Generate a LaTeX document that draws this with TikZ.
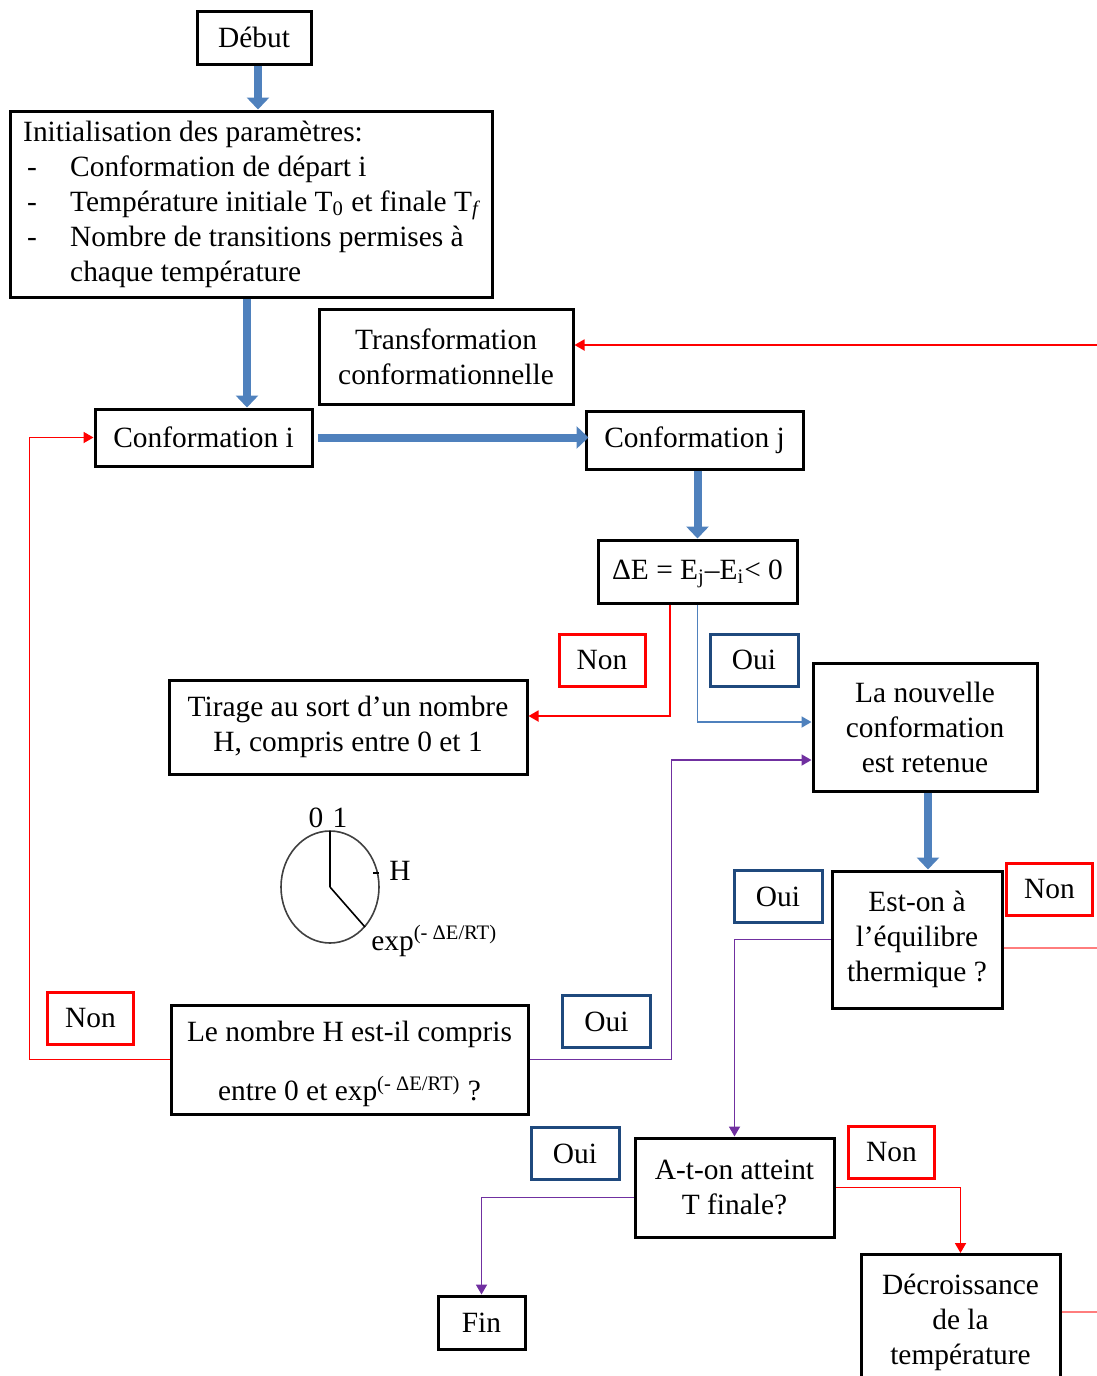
\documentclass[tikz,border=0pt]{standalone}
\usepackage{fontspec}
\setmainfont{Liberation Serif}
\usepackage{xcolor}
\usetikzlibrary{arrows.meta}

\definecolor{bigblue}{RGB}{79,129,189}
\definecolor{ouiblue}{RGB}{31,73,125}
\definecolor{nonred}{RGB}{255,0,0}
\definecolor{palered}{RGB}{255,125,125}
\definecolor{ouipurple}{RGB}{112,48,160}

\begin{document}
\begin{tikzpicture}[
    x=0.5pt, y=-0.5pt,
    font=\fontsize{14.7}{17.5}\selectfont,
    box/.style={draw, line width=1.5pt, align=center, inner sep=2pt},
    nonbox/.style={draw=nonred, line width=1.5pt, minimum width=43pt, minimum height=26pt, inner sep=1pt},
    ouibox/.style={draw=ouiblue, line width=1.5pt, minimum width=44pt, minimum height=26pt, inner sep=1pt},
    bigarrow/.style={-{Triangle[width=11pt,length=6pt]}, line width=4pt, bigblue},
    nonline/.style={-{Triangle[width=5.5pt,length=5pt]}, line width=0.9pt, nonred},
    ouiline/.style={-{Triangle[width=5.5pt,length=5pt]}, line width=0.9pt, ouipurple},
    okline/.style={-{Triangle[width=5.5pt,length=5pt]}, line width=0.9pt, bigblue}
]
\path[use as bounding box, clip] (0,0) rectangle (1097,1376);

% boites principales
\node[box, minimum width=57pt, minimum height=26.5pt] (debut) at (254,37.5) {Début};
\node[box, minimum width=241pt, minimum height=93pt, align=left] (init) at (251,204)
  {Initialisation des paramètres:\\
   \makebox[23.5pt][l]{\hspace{2pt}-}Conformation de départ i\\
   \makebox[23.5pt][l]{\hspace{2pt}-}Température initiale T\textsubscript{0} et finale T\textsubscript{\itshape f}\\
   \makebox[23.5pt][l]{\hspace{2pt}-}Nombre de transitions permises à\\
   \hspace*{23.5pt}chaque température};
\node[box, minimum width=127pt, minimum height=47.5pt] (transfo) at (446,356.5) {Transformation\\conformationnelle};
\node[box, minimum width=108.5pt, minimum height=28.5pt] (confi) at (203.5,437.5) {Conformation i};
\node[box, minimum width=108.5pt, minimum height=29pt] (confj) at (694.5,440) {Conformation j};
\node[box, minimum width=99.5pt, minimum height=31.5pt] (deltaE) at (697.5,571.5)
  {\rule{0pt}{12pt}ΔE = E\textsubscript{j}–E\textsubscript{i}< 0};
\node[box, minimum width=179pt, minimum height=47pt] (tirage) at (348,727)
  {Tirage au sort d’un nombre\\H, compris entre 0 et 1};
\node[box, minimum width=112pt, minimum height=64pt] (nouvelle) at (925,727)
  {La nouvelle\\conformation\\est retenue};
\node[box, minimum width=85pt, minimum height=68.5pt] (equil) at (917,939.5)
  {Est-on à\\l’équilibre\\thermique ?};
\node[box, minimum width=178.5pt, minimum height=54.5pt] (testH) at (349.5,1059.5)
  {\rule{0pt}{15pt}Le nombre H est-il compris\\[12pt]entre 0 et exp\textsuperscript{(- ΔE/RT)} ?};
\node[box, minimum width=99.5pt, minimum height=49.5pt] (atteint) at (734.5,1187.5)
  {A-t-on atteint\\T finale?};
\node[box, minimum width=43.5pt, minimum height=26.5pt] (fin) at (481.5,1322.5) {Fin};
\node[box, minimum width=99.5pt, inner ysep=10pt, anchor=north] (decroiss) at (960.5,1253)
  {Décroissance\\de la\\température};

% etiquettes Oui / Non
\node[nonbox] (nonA) at (602,660) {Non};
\node[ouibox] (ouiA) at (754,660) {Oui};
\node[ouibox] (ouiB) at (778,896.5) {Oui};
\node[nonbox] (nonB) at (1049.5,889.5) {Non};
\node[nonbox] (nonC) at (90.5,1018) {Non};
\node[ouibox] (ouiC) at (606.5,1021.5) {Oui};
\node[ouibox] (ouiD) at (575,1153.5) {Oui};
\node[nonbox] (nonD) at (891.5,1152) {Non};

% cadran
\coordinate (clk) at (330,887);
\coordinate (clktop) at (330,831);
\coordinate (clkexp) at (365,927);
\draw[line width=0.8pt, black!75] (clk) ellipse [x radius=24.5pt, y radius=28pt];
\draw[line width=0.8pt] (clk) -- (clktop);
\draw[line width=0.8pt] (clk) -- (clkexp);
\draw[line width=0.8pt] (373,873) -- (379,873);
\node (zero) at (316,818) {0};
\node (one) at (340,818) {1};
\node (hlab) at (400,871) {H};
\node[anchor=west, inner sep=0pt] (explab) at (371,941) {exp\textsuperscript{(- ΔE/RT)}};

% bords droits
\coordinate (edgeT) at (1097,345);
\coordinate (edgeE) at (1097,948);
\coordinate (edgeD) at (1097,1312);

% fleches epaisses
\draw[bigarrow] ([xshift=2pt]debut.south) -- ([xshift=2pt]debut.south |- init.north);
\draw[bigarrow] ([xshift=-2pt]init.south) -- ([xshift=-2pt]init.south |- confi.north);
\draw[bigarrow] ([xshift=2pt]confi.east) -- ([xshift=2pt]confi.east -| confj.west);
\draw[bigarrow] ([xshift=1.5pt]confj.south) -- ([xshift=1.5pt]confj.south |- deltaE.north);
\draw[bigarrow] ([xshift=1.5pt]nouvelle.south) -- ([xshift=1.5pt]nouvelle.south |- equil.north);

% liaisons fines
\draw[nonline] (edgeT) -- (transfo.east |- edgeT);
\draw[nonline] ([xshift=-13.75pt]deltaE.south) |- ([yshift=5.5pt]tirage.east);
\draw[okline] (deltaE.south) |- ([yshift=2.5pt]nouvelle.west);
\draw[ouiline] (testH.east) -- ++(142,0) |- ([yshift=-16.5pt]nouvelle.west);
\draw[nonline] (testH.west) -- ++(-140,0) |- (confi.west);
\draw[ouiline] (equil.west) -| (atteint.north);
\draw[line width=1.3pt, palered] (equil.east |- edgeE) -- (edgeE);
\draw[ouiline] ([yshift=-5pt]atteint.west) -| (fin.north);
\draw[nonline] (atteint.east) -| (decroiss.north);
\draw[line width=1.3pt, palered] (decroiss.east |- edgeD) -- (edgeD);
\end{tikzpicture}
\end{document}
